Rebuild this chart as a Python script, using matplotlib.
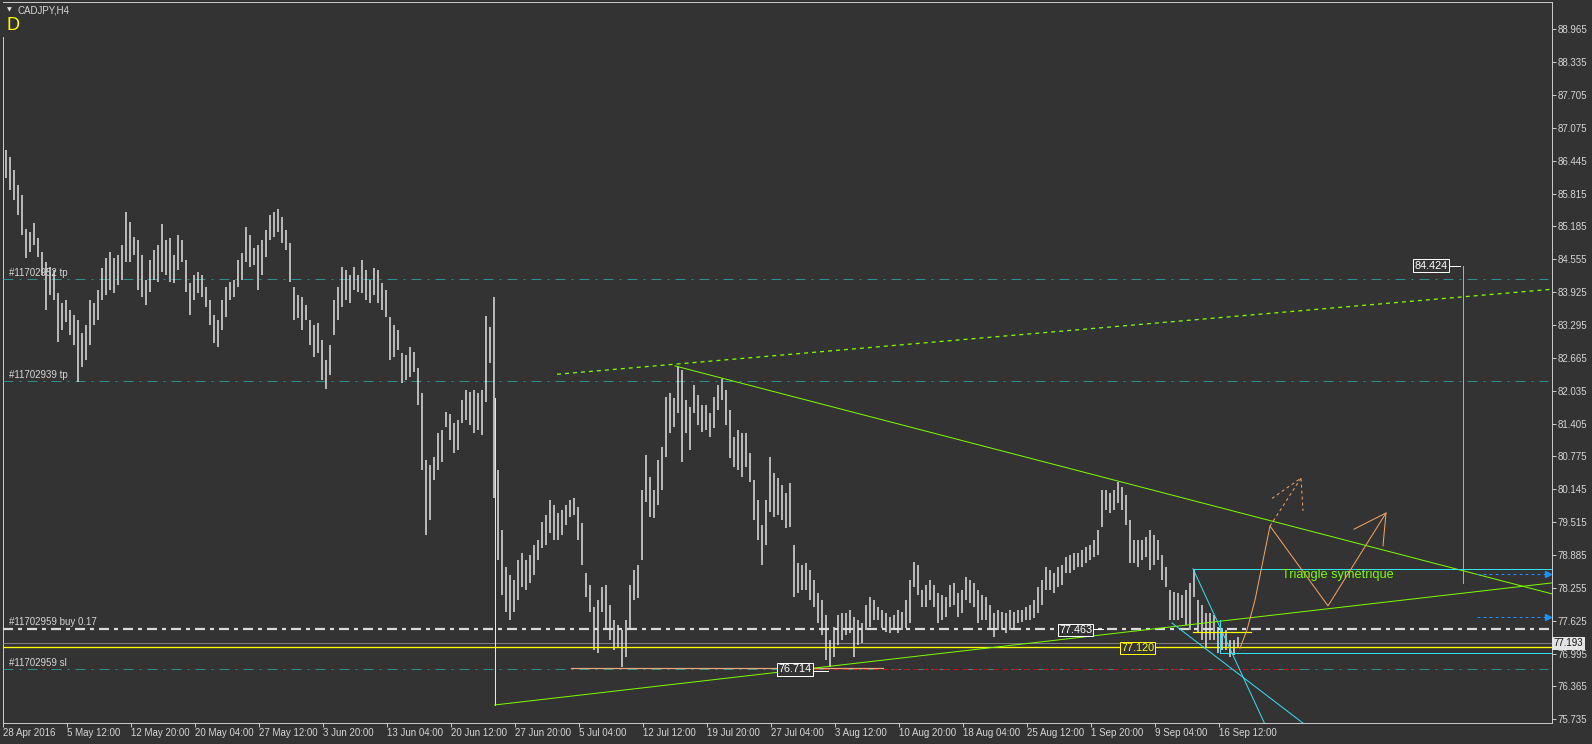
import matplotlib
matplotlib.use("Agg")
import matplotlib.pyplot as plt
import matplotlib.transforms as mtransforms
from matplotlib.lines import Line2D

plt.rcParams['font.family'] = ['Liberation Sans', 'DejaVu Sans']
plt.rcParams['lines.scale_dashes'] = False

# ---------------- data ----------------
symbol = "CADJPY,H4"
period_mark = "D"

highs = [86.65, 86.52, 86.27, 85.98, 85.79, 85.13, 85.08, 85.25, 84.96, 84.69,
         84.50, 84.41, 84.35, 83.91, 83.72, 83.77, 83.58, 83.49, 83.39, 83.14,
         83.29, 83.77, 83.72, 83.97, 84.39, 84.58, 84.69, 84.58, 84.64, 84.83,
         85.46, 85.27, 84.98, 84.92, 84.64, 84.16, 84.54, 84.73, 84.83, 85.23,
         84.92, 84.96, 84.64, 85.02, 84.92, 84.54, 84.10, 84.25, 84.31, 84.25,
         84.02, 83.77, 83.49, 83.39, 83.77, 84.02, 84.12, 84.16, 84.54, 84.67,
         85.17, 85.02, 84.77, 84.83, 84.92, 85.12, 85.40, 85.46, 85.52, 85.36,
         85.12, 84.87, 84.02, 83.87, 83.83, 83.68, 83.39, 83.29, 83.33, 83.01,
         82.62, 82.91, 83.77, 84.02, 84.41, 84.35, 84.25, 84.41, 84.25, 84.54,
         84.35, 84.16, 84.39, 84.35, 84.10, 83.97, 83.45, 83.29, 83.20, 82.76,
         82.72, 82.87, 82.78, 82.47, 81.99, 80.71, 80.61, 80.76, 81.22, 81.28,
         81.62, 81.59, 81.41, 81.47, 81.86, 82.05, 82.01, 82.05, 81.99, 82.05,
         83.47, 83.26, 83.83, 80.51, 79.36, 78.65, 78.50, 78.41, 78.79, 78.92,
         78.79, 78.88, 79.08, 79.17, 79.52, 79.65, 79.94, 79.84, 79.69, 79.75,
         79.84, 79.94, 79.98, 79.80, 79.50, 78.54, 78.31, 77.89, 78.02, 78.27,
         78.31, 77.93, 77.64, 77.54, 77.45, 77.64, 78.31, 78.60, 78.69, 80.13,
         80.80, 80.38, 80.13, 80.71, 80.96, 81.91, 81.99, 81.89, 82.51, 82.43,
         81.86, 81.72, 82.14, 81.95, 81.76, 81.76, 81.61, 81.91, 82.14, 82.26,
         82.05, 81.66, 81.15, 81.28, 81.22, 81.22, 80.84, 80.32, 79.94, 79.46,
         79.94, 80.76, 80.46, 80.36, 80.23, 80.07, 80.27, 79.08, 78.73, 78.69,
         78.73, 78.60, 78.41, 78.16, 78.02, 77.73, 77.26, 77.50, 77.73, 77.77,
         77.77, 77.83, 77.70, 77.64, 77.58, 77.93, 78.08, 78.02, 77.89, 77.83,
         77.77, 77.70, 77.73, 77.83, 77.79, 78.02, 78.41, 78.75, 78.69, 78.21,
         78.31, 78.41, 78.31, 78.16, 78.12, 78.08, 78.31, 78.35, 78.16, 78.21,
         78.46, 78.41, 78.35, 78.21, 78.12, 78.08, 77.93, 77.77, 77.83, 77.79,
         77.77, 77.83, 77.79, 77.83, 77.83, 77.89, 77.93, 78.02, 78.27, 78.41,
         78.65, 78.60, 78.54, 78.65, 78.69, 78.85, 78.88, 78.92, 78.92, 78.98,
         79.04, 79.08, 79.17, 79.36, 80.13, 80.13, 80.07, 80.13, 80.29, 80.19,
         80.03, 79.56, 79.17, 79.17, 79.17, 79.23, 79.36, 79.27, 79.17, 78.88,
         78.65, 78.21, 78.18, 78.16, 78.12, 78.21, 78.35, 78.60, 78.02, 77.93,
         77.77, 77.77, 77.73, 77.50, 77.48, 77.45, 77.26, 77.26, 77.31]

lows = [86.11, 85.88, 85.69, 85.40, 85.02, 84.58, 84.69, 84.83, 84.60, 84.25,
        83.58, 83.87, 83.77, 82.97, 83.20, 83.35, 83.10, 82.91, 82.20, 82.49,
        82.62, 82.91, 83.29, 83.39, 83.77, 83.87, 83.97, 83.91, 84.06, 84.16,
        84.50, 84.50, 84.64, 83.97, 83.83, 83.68, 83.93, 84.16, 84.12, 84.31,
        84.25, 84.12, 84.10, 84.35, 84.50, 83.93, 83.49, 83.77, 83.91, 83.83,
        83.64, 83.29, 82.95, 82.87, 83.20, 83.45, 83.77, 83.83, 84.02, 84.16,
        84.50, 84.41, 84.44, 83.97, 84.25, 84.60, 84.92, 84.98, 85.08, 84.87,
        84.73, 84.12, 83.39, 83.43, 83.20, 83.39, 82.91, 82.68, 82.76, 82.24,
        82.07, 82.34, 83.10, 83.39, 83.64, 83.77, 83.72, 83.97, 83.93, 83.91,
        83.77, 83.72, 83.87, 83.72, 83.58, 83.45, 82.62, 82.68, 82.82, 82.18,
        82.24, 82.30, 82.39, 81.76, 80.51, 79.27, 79.56, 80.32, 80.51, 80.67,
        81.34, 81.09, 80.84, 80.90, 81.41, 81.47, 81.38, 81.22, 81.28, 81.18,
        81.82, 82.57, 79.98, 78.79, 78.12, 77.79, 77.64, 77.79, 78.02, 78.27,
        78.21, 78.35, 78.50, 78.79, 79.02, 79.08, 79.31, 79.17, 79.17, 79.27,
        79.46, 79.61, 79.65, 79.17, 78.69, 78.08, 77.79, 77.06, 77.00, 77.79,
        77.45, 77.26, 77.06, 77.10, 76.74, 76.93, 77.45, 78.02, 78.06, 78.79,
        79.90, 79.61, 79.59, 79.84, 80.13, 80.76, 81.22, 81.34, 81.61, 80.67,
        81.22, 80.90, 81.61, 81.38, 81.24, 81.28, 81.15, 81.32, 81.66, 81.86,
        81.38, 80.74, 80.57, 80.51, 80.38, 80.57, 80.29, 79.56, 79.17, 78.69,
        79.08, 79.71, 79.61, 79.65, 79.56, 79.40, 79.42, 78.08, 78.16, 78.21,
        78.21, 78.02, 77.89, 77.58, 77.35, 76.87, 76.74, 76.93, 77.16, 77.26,
        77.35, 77.39, 76.93, 77.16, 77.20, 77.45, 77.50, 77.64, 77.64, 77.48,
        77.41, 77.39, 77.45, 77.39, 77.45, 77.48, 77.58, 78.27, 78.12, 77.89,
        77.89, 78.02, 77.89, 77.58, 77.64, 77.70, 77.89, 77.93, 77.70, 77.77,
        78.02, 77.96, 77.89, 77.58, 77.64, 77.64, 77.45, 77.31, 77.45, 77.45,
        77.39, 77.45, 77.48, 77.58, 77.60, 77.64, 77.64, 77.68, 77.77, 77.93,
        78.21, 78.21, 78.16, 78.27, 78.31, 78.54, 78.54, 78.60, 78.65, 78.65,
        78.73, 78.79, 78.85, 78.88, 79.42, 79.75, 79.69, 79.75, 79.88, 79.75,
        79.46, 78.73, 78.73, 78.65, 78.79, 78.85, 78.60, 78.69, 78.79, 78.41,
        78.27, 77.64, 77.64, 77.64, 77.68, 77.54, 77.45, 78.08, 77.39, 77.26,
        77.12, 77.26, 77.26, 77.00, 77.06, 77.06, 76.93, 76.97, 77.12]

time_labels = ["28 Apr 2016", "5 May 12:00", "12 May 20:00", "20 May 04:00",
               "27 May 12:00", "3 Jun 20:00", "13 Jun 04:00", "20 Jun 12:00",
               "27 Jun 20:00", "5 Jul 04:00", "12 Jul 12:00", "19 Jul 20:00",
               "27 Jul 04:00", "3 Aug 12:00", "10 Aug 20:00", "18 Aug 04:00",
               "25 Aug 12:00", "1 Sep 20:00", "9 Sep 04:00", "16 Sep 12:00"]

price_labels = ["75.735", "76.365", "76.995", "77.625", "78.255", "78.885",
                "79.515", "80.145", "80.775", "81.405", "82.035", "82.665",
                "83.295", "83.925", "84.555", "85.185", "85.815", "86.445",
                "87.075", "87.705", "88.335", "88.965"]

last_price = 77.193
tp1_level, tp1_text = 84.17, "#11702952 tp"
tp2_level, tp2_text = 82.22, "#11702939 tp"
buy_level, buy_text = 77.463, "#11702959 buy 0.17"
sl_level, sl_text = 76.69, "#11702959 sl"
yellow_level = 77.120
low_level = 76.714
target_level = 84.424
pattern_text = "Triangle symétrique"

# drawn objects: (bar index, price)
upper_trend = ([167.25, 386.5], [82.51, 78.14])
channel_top = ([137.75, 386.5], [82.35, 83.98])
lower_trend = ([122.2, 386.5], [76.01, 78.35])
start_vertical = ([122.2, 122.2], [76.01, 81.90])
target_vertical = ([364.25, 364.25], [84.424, 78.35])
cyan_box_top = ([296.75, 386.5], [78.62, 78.62])
cyan_box_bottom = ([303.5, 386.5], [77.01, 77.01])
cyan_box_left = ([303.5, 303.5], [77.01, 77.64])
cyan_diag1 = ([296.75, 315.4], [78.62, 75.53])
cyan_diag2 = ([291.5, 326.5], [77.58, 75.53])
yellow_short = ([296.75, 311.25], [77.41, 77.41])
orange_path = ([308.5, 310.25, 312.25, 316.0, 330.5, 345.0],
               [77.10, 77.45, 78.02, 79.44, 77.91, 79.69])
orange_head = ([337.0, 345.0, 344.25], [79.38, 79.69, 79.06])
orange_dash = ([316.0, 323.75], [79.44, 80.36])
orange_dash_head = ([316.5, 323.75, 324.25], [79.97, 80.36, 79.73])
red_sl_segment = ([201.75, 323.5], [76.69, 76.69])
low_line = ([141.25, 219.25], [76.714, 76.714])
blue_arrows = ([367.75, 385.5], [78.52, 77.69])
label_low = (197.25, 76.69, "76.714", (201.75, 205.5))
label_buy = (267.4, 77.45, "77.463", (272.0, 274.25))
label_yellow = (282.9, 77.10, "77.120")
label_target = (356.25, 84.43, "84.424", (360.75, 363.5))

# ---------------- figure ----------------
W, H = 1592, 744
PX = 0.72  # points per pixel at 100 dpi
BG = '#333333'
FG = '#d6d6d6'
BAR = '#e2e2e2'
TEAL = '#2f8e8e'
LIME = '#7cfc00'
CYAN = '#33e0f0'
ORANGE = '#f4a464'

fig = plt.figure(figsize=(W / 100, H / 100), dpi=100)
fig.patch.set_facecolor(BG)
ax = fig.add_axes([3 / W, 21 / H, 1549 / W, 721 / H])
ax.set_facecolor(BG)
ax.set_xlim(-0.75, 386.5)
ax.set_ylim(75.664, 89.487)

for side in ['top', 'right', 'bottom']:
    ax.spines[side].set_color('#c8c8c8')
    ax.spines[side].set_linewidth(1 * PX)
ax.spines['left'].set_visible(False)
ax.add_line(Line2D([0, 0], [0, (723 - 37) / 721], transform=ax.transAxes,
                   color='#c8c8c8', lw=1 * PX, clip_on=False))

# price bars
xs = list(range(len(highs)))
ax.vlines(xs, lows, highs, color=BAR, lw=1.5 * PX, zorder=3)

# order / level lines
dashdot = (0, (10 * PX, 6 * PX, 2 * PX, 6 * PX))
for lvl in (tp1_level, tp2_level, sl_level):
    ax.hlines(lvl, -0.75, 385.5, color=TEAL, lw=1 * PX, linestyles=[dashdot], zorder=2)
ax.hlines(buy_level, -0.75, 386.5, color='#dcdcdc', lw=2.2 * PX,
          linestyles=[(0, (10 * PX, 5 * PX, 4 * PX, 5 * PX))], zorder=4)
ax.hlines(last_price, -0.75, 386.5, color='#808080', lw=1 * PX, zorder=2)
ax.hlines(yellow_level, -0.75, 386.5, color='#ffff00', lw=1.3 * PX, zorder=4)
ax.plot(*red_sl_segment, color='#d01010', lw=1 * PX, ls=(0, (5 * PX, 5 * PX)), zorder=2)
ax.plot(*low_line, color='#e8a878', lw=1.2 * PX, zorder=2)

label_kw = dict(fontsize=7.0, color=FG, va='bottom', ha='left', zorder=6)
ax.annotate(tp1_text, (0.75, tp1_level), xytext=(0, 1), textcoords='offset points', **label_kw)
ax.annotate(tp2_text, (0.75, tp2_level), xytext=(0, 1), textcoords='offset points', **label_kw)
ax.annotate(buy_text, (0.75, buy_level), xytext=(0, 1.5), textcoords='offset points', **label_kw)
ax.annotate(sl_text, (0.75, sl_level), xytext=(0, 1), textcoords='offset points', **label_kw)

# trend lines
ax.plot(*upper_trend, color=LIME, lw=1 * PX, zorder=5)
ax.plot(*lower_trend, color=LIME, lw=1 * PX, zorder=5)
ax.plot(*channel_top, color=LIME, lw=1.3 * PX, ls=(0, (4 * PX, 4 * PX)), zorder=5)
ax.plot(*start_vertical, color='#e8e8e8', lw=1 * PX, zorder=4)
ax.plot(*target_vertical, color='#86d43a', lw=1 * PX, zorder=5)

# cyan drawings
for seg in (cyan_box_top, cyan_box_bottom, cyan_box_left, cyan_diag1, cyan_diag2):
    ax.plot(*seg, color=CYAN, lw=1 * PX, zorder=5)
ax.plot(*yellow_short, color='#ffff00', lw=1.2 * PX, zorder=5)

# projected path
ax.plot(*orange_path, color=ORANGE, lw=1 * PX, zorder=6)
ax.plot(*orange_head, color=ORANGE, lw=1 * PX, zorder=6)
ax.plot(*orange_dash, color=ORANGE, lw=1 * PX, ls=(0, (3 * PX, 3 * PX)), zorder=6)
ax.plot(*orange_dash_head, color=ORANGE, lw=1 * PX, ls=(0, (3 * PX, 3 * PX)), zorder=6)

# blue dotted arrows
for lvl in blue_arrows[1]:
    ax.plot(blue_arrows[0], [lvl, lvl], color='#1e90ff', lw=1 * PX,
            ls=(0, (3 * PX, 3 * PX)), zorder=5)
    ax.plot([blue_arrows[0][1]], [lvl], marker='>', color='#1e90ff', ms=5, zorder=5)

ax.text(333.0, 78.50, pattern_text, color=LIME, fontsize=9.2, ha='center', va='center', zorder=7)

# value boxes
def value_box(x, y, s, ec, tc):
    ax.text(x, y, s, ha='center', va='center', fontsize=7.8, color=tc, zorder=8,
            bbox=dict(boxstyle='square,pad=0.12', fc=BG, ec=ec, lw=1 * PX))

value_box(label_low[0], label_low[1], label_low[2], 'white', 'white')
ax.plot(label_low[3], [76.66, 76.66], color='white', lw=1 * PX, zorder=8)
value_box(label_buy[0], label_buy[1], label_buy[2], 'white', 'white')
ax.plot(label_buy[3], [77.463, 77.463], color='white', lw=1 * PX, zorder=8)
value_box(label_yellow[0], label_yellow[1], label_yellow[2], '#ffff00', '#ffff00')
value_box(label_target[0], label_target[1], label_target[2], 'white', 'white')
ax.plot(label_target[3], [target_level, target_level], color='white', lw=1 * PX, zorder=8)

# axes ticks
ax.yaxis.tick_right()
price_vals = [float(p) for p in price_labels]
ax.set_yticks(price_vals)
ax.set_yticklabels(price_labels)
ax.tick_params(axis='y', colors='#c8c8c8', labelcolor=FG, length=4 * PX,
               width=1 * PX, pad=1.4, labelsize=7.0)
xt = [16 * k - 0.75 for k in range(len(time_labels))]
ax.set_xticks(xt)
ax.set_xticklabels(time_labels)
ax.tick_params(axis='x', colors='#c8c8c8', labelcolor=FG, length=4 * PX,
               width=1 * PX, pad=1.0, labelsize=7.0)
for lab in ax.get_xticklabels():
    lab.set_ha('left')

# current price box
trans = mtransforms.blended_transform_factory(ax.transAxes, ax.transData)
ax.text(1.0012, last_price, f"{last_price:.3f}", transform=trans, ha='left', va='center',
        fontsize=7.0, color='#111111', zorder=9, clip_on=False,
        bbox=dict(boxstyle='square,pad=0.15', fc='#e4e4e4', ec='none'))

# header
fig.text(7 / W, 1 - 9.5 / H, "\u25BC", color='#e0e0e0', fontsize=4.5, ha='left', va='center',
         family=['DejaVu Sans'])
fig.text(18 / W, 1 - 10.5 / H, symbol, color=FG, fontsize=7.0, ha='left', va='center')
fig.text(7 / W, 1 - 25 / H, period_mark, color='#ffff00', fontsize=13, ha='left', va='center')

fig.savefig("out.png", dpi=100, facecolor=BG)
